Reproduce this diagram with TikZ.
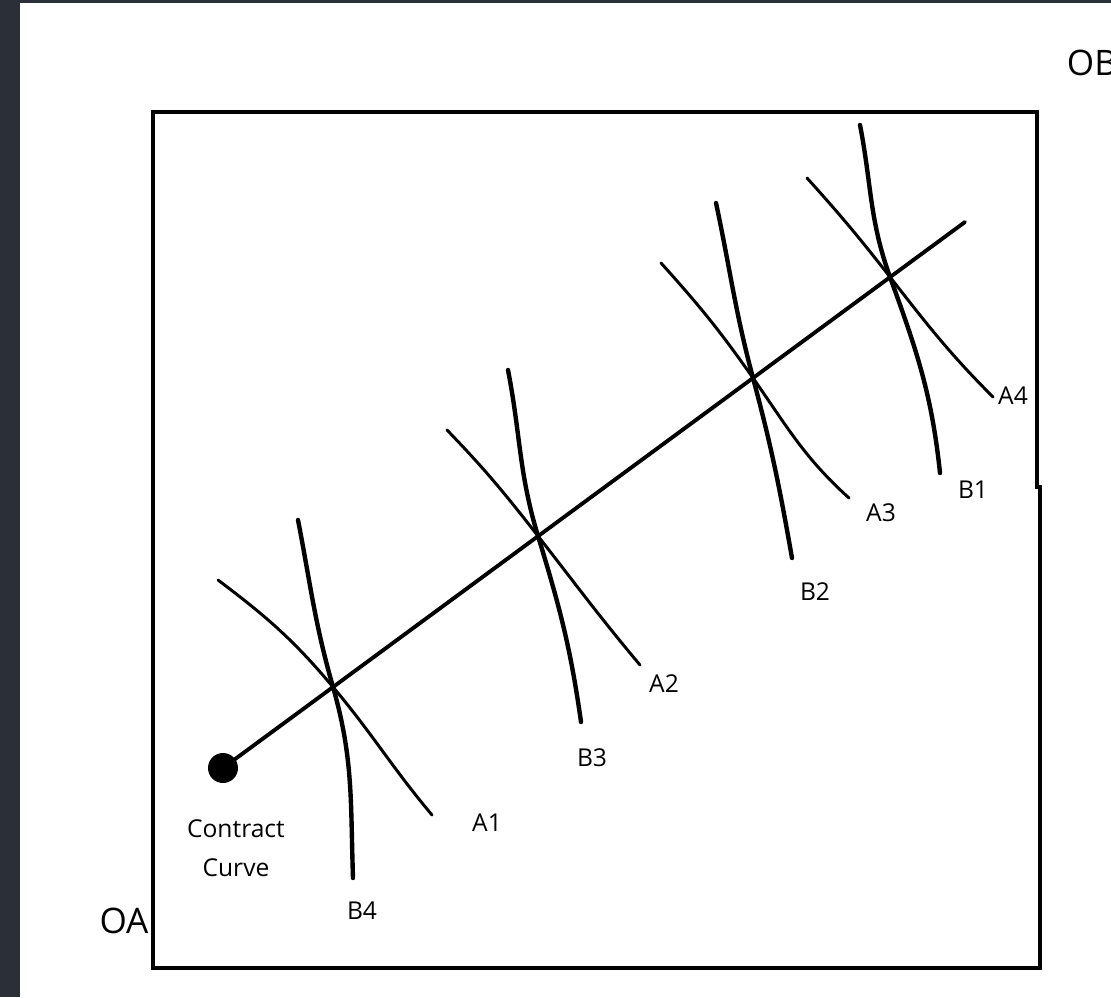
\documentclass[tikz,border=0pt]{standalone}
\usepackage{fontspec}
\setmainfont{Open Sans}
\usepackage{tikz}
\definecolor{panel}{HTML}{2B3038}
\tikzset{
  acurve/.style={line width=1.7pt, line cap=round},
  bcurve/.style={line width=2.5pt, line cap=round},
  lbl/.style={font=\fontsize{14}{22}\selectfont, inner sep=0pt},
  origin/.style={font=\fontsize{20}{24}\selectfont, inner sep=0pt},
  dot/.style={circle, fill, inner sep=0pt, minimum size=0.6cm},
}

\begin{document}
\begin{tikzpicture}[x=0.02cm, y=-0.02cm]
\useasboundingbox (0,0) rectangle (1111,997);
\fill[white] (0,0) rectangle (1111,997);
\fill[panel] (0,0) rectangle (20,997);
\fill[panel] (0,0) rectangle (1111,3);
% the box
\draw[line width=2.2pt] (153,112) -- (1037,112) -- (1037,487) -- (1040,487) -- (1040,968) -- (153,968) -- cycle;
\node[origin] (oa) at (124,921) {OA};
\node[origin] (ob) at (1092,63) {OB};
% contract curve
\node[dot] (cc) at (223,768) {};
\coordinate (ccend) at (965,222);
\draw[line width=2.2pt, line cap=round] (cc.center) -- (ccend);
\coordinate (e1) at (333,687);
\coordinate (e2) at (538,536);
\coordinate (e3) at (753,378);
\coordinate (e4) at (890,277);
% indifference curves of A
\draw[acurve] (218,580) to[out=-37,in=130] (e1) to[out=-50,in=130] (432,815);
\draw[acurve] (447,430) to[out=-46,in=128] (e2) to[out=-52,in=130] (640,665);
\draw[acurve] (661,263) to[out=-48,in=125] (e3) to[out=-55,in=138] (849,498);
\draw[acurve] (807,178) to[out=-48,in=128] (e4) to[out=-52,in=135] (993,397);
% indifference curves of B
\draw[bcurve] (298,520) to[out=-79,in=106] (e1) to[out=-74,in=92] (353,878);
\draw[bcurve] (508,370) to[out=-79,in=107] (e2) to[out=-73,in=98] (581,722);
\draw[bcurve] (716,203) to[out=-78,in=105] (e3) to[out=-75,in=100] (792,558);
\draw[bcurve] (860,125) to[out=-79,in=110] (e4) to[out=-70,in=96] (940,473);
% labels
\node[lbl] (a1) at (487,823) {A1};
\node[lbl] (a2) at (664,684) {A2};
\node[lbl] (a3) at (881,513) {A3};
\node[lbl] (a4) at (1013,396) {A4};
\node[lbl] (b1) at (973,490) {B1};
\node[lbl] (b2) at (815,592) {B2};
\node[lbl] (b3) at (592,758) {B3};
\node[lbl] (b4) at (362,911) {B4};
\node[lbl, align=center] (cclbl) at (236,848) {Contract\\Curve};
\end{tikzpicture}
\end{document}
